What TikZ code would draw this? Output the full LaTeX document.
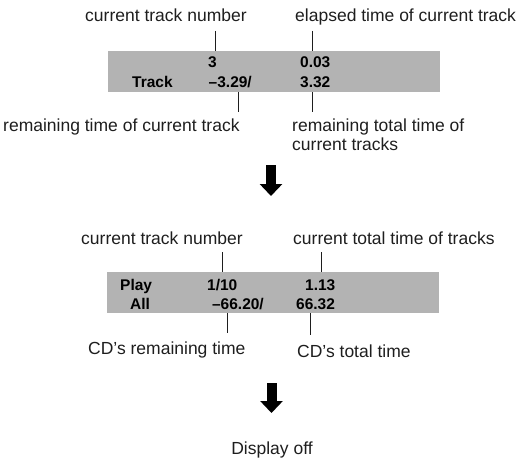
\documentclass[tikz,border=0pt]{standalone}
\usepackage{fontspec}
\setmainfont{Liberation Sans}
\usetikzlibrary{arrows.meta}
\definecolor{lcdgray}{RGB}{179,179,179}
\definecolor{inkgray}{RGB}{30,30,30}
\tikzset{
  note/.style={
    anchor=base west,
    inner sep=0pt,
    text=inkgray,
    font=\fontsize{17.5}{21}\selectfont
  },
  reading/.style={
    anchor=base west,
    inner sep=0pt,
    font=\fontsize{15.5}{18}\selectfont\bfseries
  },
  lcd/.style={
    fill=lcdgray,
    draw=none,
    anchor=north west,
    inner sep=0pt,
    minimum width=332pt,
    minimum height=41pt
  },
  pointer/.style={line width=1pt,draw=inkgray},
  nextstep/.style={-{Triangle[width=22pt,length=12pt]},line width=10pt}
}

\begin{document}
\begin{tikzpicture}[x=1pt,y=-1pt]
  \useasboundingbox (0,0) rectangle (517,460);

  % first display: single track
  \node[lcd] (box1) at (108,51) {};
  \node[reading] (trk1) at (208,67.5) {3};
  \node[reading] (el1) at (300,67.5) {0.03};
  \node[reading] (mode1) at (132,88) {Track};
  \node[reading,anchor=base east] (rem1) at (252,88) {–3.29/};
  \node[reading] (tot1) at (300,88) {3.32};

  \node[note] (trknum1) at (85,22) {current track number};
  \node[note] (elapsed) at (295,22) {elapsed time of current track};
  \node[note] (remcur) at (3,131) {remaining time of current track};
  \node[note] (remtot) at (292,131) {remaining total time of};
  \node[note] (remtotb) at (292,150) {current tracks};

  \coordinate (p1a) at (215,31);
  \coordinate (p1b) at (312,31);
  \coordinate (p1c) at (238,112);
  \coordinate (p1d) at (312,112);
  \draw[pointer] (p1a) -- (p1a |- box1.north);
  \draw[pointer] (p1b) -- (p1b |- box1.north);
  \draw[pointer] (p1c |- box1.south) -- (p1c);
  \draw[pointer] (p1d |- box1.south) -- (p1d);

  \coordinate (s1top) at (271,165);
  \coordinate (s1tip) at (271,196);
  \draw[nextstep] (s1top) -- (s1tip);

  % second display: all tracks
  \node[lcd] (box2) at (107,272) {};
  \node[reading] (mode2a) at (120,290) {Play};
  \node[reading] (trk2) at (207,290) {1/10};
  \node[reading] (cur2) at (305,290) {1.13};
  \node[reading] (mode2b) at (130,309) {All};
  \node[reading,anchor=base east] (rem2) at (264,309) {–66.20/};
  \node[reading] (tot2) at (296,309) {66.32};

  \node[note] (trknum2) at (81,244) {current track number};
  \node[note] (curtot) at (293,244) {current total time of tracks};
  \node[note] (cdrem) at (88,354) {CD’s remaining time};
  \node[note] (cdtot) at (297,357) {CD’s total time};

  \coordinate (p2a) at (222,252);
  \coordinate (p2b) at (321,252);
  \coordinate (p2c) at (227,333);
  \coordinate (p2d) at (310,335);
  \draw[pointer] (p2a) -- (p2a |- box2.north);
  \draw[pointer] (p2b) -- (p2b |- box2.north);
  \draw[pointer] (p2c |- box2.south) -- (p2c);
  \draw[pointer] (p2d |- box2.south) -- (p2d);

  \coordinate (s2top) at (271.5,383);
  \coordinate (s2tip) at (271.5,413);
  \draw[nextstep] (s2top) -- (s2tip);

  % display off
  \node[note,anchor=base] (off) at (272,454) {Display off};
\end{tikzpicture}
\end{document}
